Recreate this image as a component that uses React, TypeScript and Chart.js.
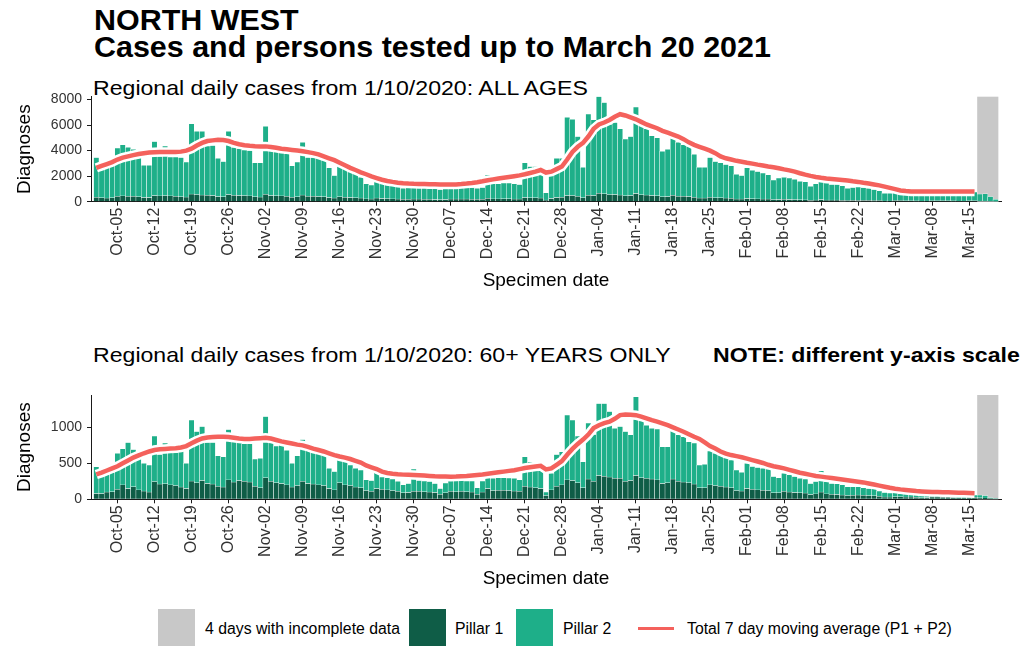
import React, { useEffect, useRef } from "react";
import { Chart, registerables } from "chart.js";

Chart.register(...registerables);

const FONT = '"Liberation Sans", Arial, Helvetica, sans-serif';
const P1_COLOR = "#0f5d47";
const P2_COLOR = "#1eaf89";
const RED = "#f4615c";
const GREY = "#c8c8c8";
const AXIS = "#1a1a1a";
const TICK = "#333333";

// ---------- categories ----------
const MONTHS = ["Jan", "Feb", "Mar", "Apr", "May", "Jun", "Jul", "Aug", "Sep", "Oct", "Nov", "Dec"];
const FIRST_DAY = Date.UTC(2020, 8, 30); // Sep 30 2020 (padding day) .. Mar 21 2021 (padding day)
const N_DAYS = 173;
const DATES: string[] = Array.from({ length: N_DAYS }, (_, k) => {
  const d = new Date(FIRST_DAY + k * 86400000);
  return MONTHS[d.getUTCMonth()] + "-" + String(d.getUTCDate()).padStart(2, "0");
});

const TICK_LABELS = [
  "Oct-05", "Oct-12", "Oct-19", "Oct-26", "Nov-02", "Nov-09", "Nov-16", "Nov-23", "Nov-30",
  "Dec-07", "Dec-14", "Dec-21", "Dec-28", "Jan-04", "Jan-11", "Jan-18", "Jan-25", "Feb-01",
  "Feb-08", "Feb-15", "Feb-22", "Mar-01", "Mar-08", "Mar-15",
];
const INCOMPLETE_FROM = "Mar-17";
const INCOMPLETE_TO = "Mar-20";

const ALL_Y_TICKS = [0, 2000, 4000, 6000, 8000];
const OLD_Y_TICKS = [0, 500, 1000];

// ---------- ALL AGES (Oct 1 .. Mar 20) ----------
const ALL_PILLAR1 = [
  350, 300, 280, 300, 420, 450, 430, 420, 380, 320,
  330, 480, 450, 470, 450, 430, 380, 360, 600, 550,
  520, 500, 480, 400, 380, 560, 500, 480, 470, 450,
  380, 370, 580, 480, 460, 450, 430, 350, 380, 520,
  420, 420, 400, 380, 320, 280, 380, 350, 330, 300,
  280, 220, 200, 280, 250, 240, 220, 200, 180, 180,
  200, 200, 190, 180, 170, 160, 170, 200, 200, 210,
  200, 190, 180, 190, 260, 220, 220, 230, 230, 210,
  200, 320, 300, 300, 280, 120, 250, 330, 350, 480,
  470, 420, 300, 500, 480, 650, 620, 550, 560, 520,
  460, 480, 640, 540, 520, 480, 460, 380, 400, 500,
  430, 420, 400, 350, 280, 280, 340, 310, 300, 280,
  270, 210, 200, 250, 230, 220, 210, 200, 160, 170,
  180, 170, 160, 150, 140, 110, 130, 170, 130, 120,
  120, 110, 90, 100, 110, 100, 100, 90, 80, 60,
  60, 80, 80, 75, 70, 65, 55, 60, 75, 75,
  70, 70, 65, 55, 55, 70, 70, 55, 55, 35,
  15,
];
const ALL_PILLAR2 = [
  3100, 2300, 2470, 2550, 3780, 4000, 3820, 3680, 3070, 2530,
  2520, 4220, 3100, 3880, 3050, 3070, 3070, 2740, 5500, 4950,
  4980, 3850, 3920, 3000, 2770, 4940, 3750, 3670, 3580, 3550,
  2670, 2680, 5320, 3570, 3440, 3400, 3320, 2450, 2720, 4130,
  3030, 3030, 3000, 2870, 2330, 1770, 2470, 2350, 2120, 2000,
  1620, 1180, 1100, 1470, 1300, 1210, 1080, 1000, 870, 920,
  950, 950, 910, 870, 830, 790, 830, 900, 900, 940,
  950, 910, 870, 910, 1840, 1180, 1180, 1220, 1220, 1190,
  1150, 2730, 2450, 2450, 2170, 580, 1850, 3070, 3050, 6120,
  5980, 4680, 2400, 6350, 5920, 7600, 7130, 5500, 5640, 5180,
  4440, 4620, 6760, 5410, 5180, 4670, 4540, 3570, 3700, 4950,
  4220, 4030, 3950, 3350, 2420, 2420, 3110, 2840, 2750, 2620,
  2530, 1940, 1850, 2400, 2220, 2130, 2040, 1900, 1540, 1680,
  1720, 1680, 1590, 1450, 1410, 1090, 1270, 1980, 1320, 1230,
  1230, 1140, 960, 1000, 1040, 1000, 950, 860, 770, 590,
  590, 720, 720, 705, 690, 635, 545, 590, 725, 725,
  710, 690, 635, 545, 565, 710, 690, 545, 565, 365,
  165,
];
// 7 day moving average, Oct 1 .. Mar 16
const ALL_AVERAGE = [
  2650, 2800, 2950, 3100, 3300, 3450, 3550, 3650, 3730, 3800,
  3850, 3880, 3900, 3900, 3900, 3900, 3920, 4000, 4150, 4400,
  4600, 4750, 4800, 4850, 4830, 4750, 4600, 4500, 4420, 4380,
  4350, 4330, 4330, 4280, 4220, 4150, 4100, 4050, 4000, 3950,
  3880, 3800, 3700, 3550, 3400, 3250, 3050, 2850, 2650, 2480,
  2300, 2150, 1980, 1850, 1720, 1620, 1550, 1490, 1450, 1420,
  1400, 1390, 1380, 1370, 1360, 1350, 1340, 1340, 1350, 1380,
  1420, 1470, 1530, 1600, 1680, 1750, 1820, 1880, 1940, 2000,
  2060, 2150, 2250, 2350, 2480, 2280, 2350, 2550, 2750, 3300,
  3900, 4300, 4600, 5100, 5700, 6050, 6200, 6400, 6650, 6850,
  6750, 6600, 6450, 6250, 6050, 5900, 5750, 5550, 5400, 5250,
  5100, 4900, 4650, 4450, 4300, 4150, 4000, 3800, 3550, 3400,
  3300, 3200, 3130, 3050, 2980, 2900, 2830, 2760, 2700, 2620,
  2530, 2450, 2350, 2230, 2120, 2020, 1940, 1870, 1820, 1780,
  1740, 1700, 1660, 1600, 1550, 1480, 1420, 1350, 1280, 1180,
  1080, 980, 880, 830, 800, 800, 790, 790, 790, 790,
  790, 790, 790, 790, 790, 790, 790,
];

// ---------- 60+ YEARS ONLY ----------
const OLD_PILLAR1 = [
  80, 80, 100, 105, 140, 200, 150, 175, 130, 115,
  100, 245, 210, 215, 200, 190, 170, 150, 255, 230,
  260, 220, 210, 180, 170, 270, 240, 260, 250, 240,
  180, 160, 300, 250, 230, 220, 200, 170, 190, 250,
  220, 210, 200, 190, 150, 130, 230, 200, 190, 170,
  160, 120, 110, 150, 140, 130, 120, 110, 90, 95,
  110, 110, 105, 100, 95, 70, 90, 110, 105, 110,
  105, 100, 70, 100, 150, 120, 125, 125, 120, 115,
  110, 180, 170, 160, 150, 50, 130, 180, 200, 270,
  260, 230, 160, 280, 250, 330, 320, 310, 290, 290,
  250, 260, 330, 300, 290, 280, 270, 220, 230, 280,
  250, 240, 230, 210, 160, 160, 200, 190, 180, 170,
  160, 120, 115, 150, 140, 130, 125, 120, 90, 90,
  110, 100, 95, 90, 85, 65, 75, 100, 75, 70,
  65, 60, 50, 55, 60, 55, 50, 48, 40, 30,
  30, 35, 35, 30, 30, 28, 22, 25, 30, 30,
  28, 28, 25, 20, 22, 28, 26, 20, 18, 10,
  5,
];
const OLD_PILLAR2 = [
  370, 235, 240, 270, 500, 500, 640, 515, 460, 385,
  375, 635, 410, 565, 560, 460, 500, 350, 845, 710,
  750, 570, 580, 425, 420, 700, 600, 530, 520, 530,
  380, 410, 850, 540, 510, 540, 480, 330, 415, 580,
  470, 455, 445, 430, 280, 255, 340, 345, 285, 260,
  245, 150, 150, 220, 170, 170, 160, 140, 110, 125,
  310, 150, 150, 145, 125, 80, 135, 150, 155, 155,
  150, 155, 90, 155, 250, 170, 175, 175, 175, 175,
  160, 410, 350, 240, 250, 50, 230, 440, 460, 900,
  840, 650, 360, 780, 650, 1000, 1010, 910, 695, 720,
  690, 635, 1095, 800, 740, 705, 705, 510, 500, 775,
  645, 630, 570, 570, 315, 325, 470, 450, 435, 410,
  385, 285, 260, 350, 315, 310, 305, 300, 225, 210,
  250, 240, 220, 200, 195, 155, 170, 295, 170, 150,
  150, 140, 125, 120, 115, 105, 100, 97, 75, 65,
  55, 55, 45, 45, 40, 37, 33, 35, 40, 40,
  37, 34, 33, 30, 30, 37, 34, 40, 32, 15,
  5,
];
const OLD_AVERAGE = [
  345, 370, 400, 430, 460, 500, 540, 580, 610, 640,
  665, 685, 695, 700, 705, 710, 720, 740, 780, 815,
  845, 860, 865, 870, 870, 865, 855, 845, 840, 840,
  845, 850, 855, 845, 825, 805, 790, 775, 760, 750,
  730, 705, 685, 665, 640, 615, 595, 580, 560, 535,
  510, 470, 445, 420, 385, 365, 355, 348, 343, 340,
  338, 335, 330, 325, 320, 318, 316, 315, 316, 320,
  325, 332, 338, 345, 355, 365, 375, 385, 395, 405,
  420, 435, 445, 455, 465, 415, 430, 480, 530, 620,
  700, 770, 830, 900, 990, 1030, 1060, 1080, 1120, 1170,
  1180, 1175, 1170, 1150, 1125, 1100, 1080, 1055, 1030, 1000,
  970, 940, 905, 870, 840, 790, 740, 705, 665, 635,
  615, 600, 585, 565, 545, 525, 505, 480, 460, 445,
  430, 410, 390, 370, 355, 340, 325, 315, 305, 295,
  285, 275, 265, 255, 245, 235, 220, 205, 190, 175,
  160, 148, 138, 130, 122, 115, 110, 106, 103, 100,
  98, 97, 95, 92, 90, 87, 85,
];

// place a series (which starts Oct 1) onto the padded category list
function pad(values: number[]): (number | null)[] {
  const out: (number | null)[] = new Array(N_DAYS).fill(null);
  values.forEach((v, i) => {
    out[i + 1] = v;
  });
  return out;
}

const shadePlugin = {
  id: "incompleteShade",
  beforeDatasetsDraw(chart: any) {
    const xs = chart.scales.x;
    const ys = chart.scales.y;
    const i0 = DATES.indexOf(INCOMPLETE_FROM);
    const i1 = DATES.indexOf(INCOMPLETE_TO);
    const half = (xs.getPixelForValue(1) - xs.getPixelForValue(0)) / 2;
    const left = xs.getPixelForValue(i0) - half;
    const right = xs.getPixelForValue(i1) + half;
    const top = chart.chartArea.top;
    const bottom = ys.getPixelForValue(0);
    const ctx = chart.ctx;
    ctx.save();
    ctx.fillStyle = GREY;
    ctx.fillRect(left, top, right - left, bottom - top);
    ctx.restore();
  },
};

function makeConfig(
  p1: number[],
  p2: number[],
  avg: number[],
  yMax: number,
  yTicks: number[],
  padTop: number,
  xHeight: number
) {
  return {
    type: "bar" as const,
    data: {
      labels: DATES,
      datasets: [
        {
          type: "line" as const,
          label: "Total 7 day moving average (P1 + P2)",
          data: pad(avg),
          borderColor: RED,
          borderWidth: 4.5,
          pointRadius: 0,
          fill: false,
          tension: 0,
          order: 0,
          stack: "avg",
        },
        {
          type: "line" as const,
          label: "halo",
          data: pad(avg),
          borderColor: "#ffffff",
          borderWidth: 9.5,
          pointRadius: 0,
          fill: false,
          tension: 0,
          order: 1,
          stack: "halo",
        },
        {
          type: "bar" as const,
          label: "Pillar 1",
          data: pad(p1),
          backgroundColor: P1_COLOR,
          borderColor: "#ffffff",
          borderWidth: 0.5,
          barPercentage: 1,
          categoryPercentage: 1,
          order: 2,
        },
        {
          type: "bar" as const,
          label: "Pillar 2",
          data: pad(p2),
          backgroundColor: P2_COLOR,
          borderColor: "#ffffff",
          borderWidth: 0.5,
          barPercentage: 1,
          categoryPercentage: 1,
          order: 2,
        },
      ],
    },
    options: {
      responsive: false,
      animation: false,
      devicePixelRatio: 1,
      layout: { padding: { top: padTop, right: 26, left: 0, bottom: 0 } },
      plugins: { legend: { display: false }, tooltip: { enabled: false } },
      scales: {
        x: {
          type: "category",
          offset: false,
          stacked: true,
          grid: { display: true, drawOnChartArea: false, drawTicks: true, tickLength: 4, color: AXIS, offset: false },
          border: { display: true, color: AXIS, width: 1 },
          ticks: {
            autoSkip: false,
            maxRotation: 90,
            minRotation: 90,
            padding: 2,
            color: TICK,
            font: { family: FONT, size: 16 },
            callback: (value: number) => (TICK_LABELS.includes(DATES[value]) ? DATES[value] : null),
          },
          title: {
            display: true,
            text: "Specimen date",
            color: "#000",
            font: { family: FONT, size: 19 },
            padding: { top: 0, bottom: 4 },
          },
          afterFit: (s: any) => {
            s.height = xHeight;
            s.paddingLeft = 0;
            s.paddingRight = 0;
          },
        },
        y: {
          min: 0,
          max: yMax,
          stacked: true,
          grid: { display: true, drawOnChartArea: false, drawTicks: true, tickLength: 4, color: AXIS },
          border: { display: true, color: AXIS, width: 1 },
          afterBuildTicks: (s: any) => {
            s.ticks = yTicks.map((v) => ({ value: v }));
          },
          ticks: {
            padding: 5,
            color: TICK,
            font: { family: FONT, size: 14 },
            callback: (v: number) => String(v),
          },
          title: {
            display: true,
            text: "Diagnoses",
            color: "#000",
            font: { family: FONT, size: 19 },
            padding: { top: 13, bottom: 0 },
          },
          afterFit: (s: any) => {
            s.width = 91;
            s.paddingTop = 0;
            s.paddingBottom = 0;
          },
        },
      },
    },
    plugins: [shadePlugin],
  };
}

function ChartCanvas({ top, height, config }: { top: number; height: number; config: () => any }) {
  const ref = useRef<HTMLCanvasElement | null>(null);
  useEffect(() => {
    if (!ref.current) return;
    const chart = new Chart(ref.current, config());
    return () => chart.destroy();
  }, []);
  return (
    <canvas
      ref={ref}
      width={1027}
      height={height}
      style={{ position: "absolute", left: 0, top, width: 1027, height }}
    />
  );
}

const text = (extra: React.CSSProperties): React.CSSProperties => ({
  position: "absolute",
  fontFamily: FONT,
  color: "#000",
  whiteSpace: "pre",
  margin: 0,
  ...extra,
});

export default function App() {
  useEffect(() => {
    document.body.style.margin = "0";
    document.body.style.overflow = "hidden";
  }, []);
  return (
    <div
      style={{
        position: "absolute",
        left: 0,
        top: 0,
        width: 1027,
        height: 646,
        overflow: "hidden",
        background: "#fff",
      }}
    >
      <div
        style={text({
          left: 94,
          top: 6.5,
          fontSize: 29,
          fontWeight: 700,
          lineHeight: "27px",
          transform: "scaleX(1.05)",
          transformOrigin: "0 0",
        })}
      >
        {"NORTH WEST\nCases and persons tested up to March 20 2021"}
      </div>
      <div
        style={text({
          left: 93,
          top: 77,
          fontSize: 21,
          lineHeight: "21px",
          transform: "scaleX(1.1)",
          transformOrigin: "0 0",
        })}
      >
        Regional daily cases from 1/10/2020: ALL AGES
      </div>
      <ChartCanvas
        top={85}
        height={211}
        config={() => makeConfig(ALL_PILLAR1, ALL_PILLAR2, ALL_AVERAGE, 8220, ALL_Y_TICKS, 11.7, 94.3)}
      />
      <div
        style={text({
          left: 93,
          top: 344,
          fontSize: 21,
          lineHeight: "21px",
          transform: "scaleX(1.1)",
          transformOrigin: "0 0",
        })}
      >
        Regional daily cases from 1/10/2020: 60+ YEARS ONLY
      </div>
      <div
        style={text({
          left: 713,
          top: 344,
          fontSize: 21,
          fontWeight: 700,
          lineHeight: "21px",
          transform: "scaleX(1.1)",
          transformOrigin: "0 0",
        })}
      >
        NOTE: different y-axis scale
      </div>
      <ChartCanvas
        top={385}
        height={209}
        config={() => makeConfig(OLD_PILLAR1, OLD_PILLAR2, OLD_AVERAGE, 1450, OLD_Y_TICKS, 10, 94.7)}
      />
      {/* legend */}
      <div style={{ position: "absolute", left: 158, top: 609, width: 37, height: 37, background: GREY }} />
      <div style={text({ left: 205, top: 620.5, fontSize: 15.8, lineHeight: "16px" })}>4 days with incomplete data</div>
      <div style={{ position: "absolute", left: 409, top: 609, width: 37, height: 37, background: P1_COLOR }} />
      <div style={text({ left: 455, top: 620.5, fontSize: 15.8, lineHeight: "16px" })}>Pillar 1</div>
      <div style={{ position: "absolute", left: 516, top: 609, width: 37, height: 37, background: P2_COLOR }} />
      <div style={text({ left: 563, top: 620.5, fontSize: 15.8, lineHeight: "16px" })}>Pillar 2</div>
      <div style={{ position: "absolute", left: 638, top: 626.5, width: 36, height: 3, background: RED }} />
      <div style={text({ left: 687, top: 620.5, fontSize: 15.8, lineHeight: "16px" })}>
        Total 7 day moving average (P1 + P2)
      </div>
    </div>
  );
}
